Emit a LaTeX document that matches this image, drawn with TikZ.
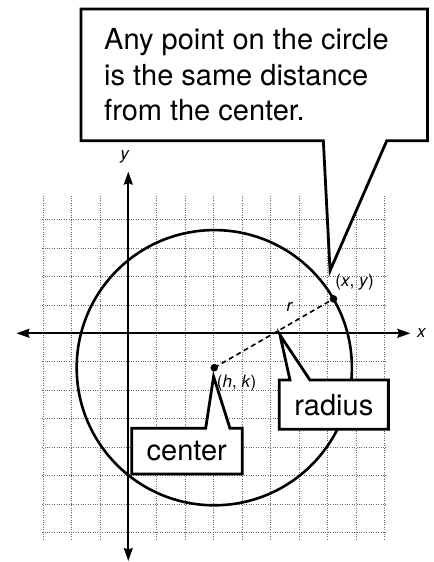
\documentclass[tikz,border=0pt]{standalone}
\usepackage{fontspec}
\setmainfont{TeX Gyre Heros}
\usetikzlibrary{arrows.meta}

\begin{document}
\begin{tikzpicture}[x=17.2pt, y=17.2pt,
    gridline/.style={black!60, line width=0.6pt, dash pattern=on 0.8pt off 1.6pt},
    axis/.style={line width=1.8pt, {Stealth[length=13pt,width=9pt,inset=1.5pt]}-{Stealth[length=13pt,width=9pt,inset=1.5pt]}},
    callout/.style={draw, line width=2.8pt, fill=white, line join=miter},
    bigtext/.style={font=\fontsize{29}{35.5}\selectfont, inner sep=0pt},
    smalltext/.style={font=\fontsize{17}{20}\selectfont, inner sep=0pt}]
  \useasboundingbox (-7.459,-13.297) rectangle (17.773,19.378);

  % Grid and circle
  \draw[gridline] (-5,-12) grid (15,8);
  \draw[line width=2.6pt] (5,-2) circle (8);

  % Axes
  \coordinate (xl) at (-6.5,0);
  \coordinate (xr) at (16.4,0);
  \coordinate (yt) at (0,9.4);
  \coordinate (yb) at (0,-13.24);
  \draw[axis] (xl) -- (xr);
  \draw[axis] (yb) -- (yt);
  \node[smalltext] (xlab) at (17.06,0) {\textit{x}};
  \node[smalltext] (ylab) at (-0.19,10.27) {\textit{y}};

  % Radius
  \coordinate (ctr) at (5,-2);
  \coordinate (pt) at (11.93,2);
  \draw[line width=1.6pt, dash pattern=on 5pt off 3.5pt] (ctr) -- (pt);
  \fill (ctr) circle (3.8pt);
  \fill (pt) circle (3.8pt);
  \node[smalltext] (ptlab) at (13.16,3.0) {(\textit{x}, \textit{y})};
  \node[smalltext] (rlab) at (9.4,1.55) {\textit{r}};
  \node[smalltext] (ctrlab) at (6.3,-2.87) {(\textit{h}, \textit{k})};

  % Callouts
  \draw[callout] (-2.75,18.85) -- (17.4,18.85) -- (17.4,11.2) -- (15.03,11.2)
    -- (11.73,3.64) -- (11.34,11.2) -- (-2.75,11.2) -- cycle;
  \node[bigtext, anchor=base west, align=left] (note) at (-1.41,12.36)
    {Any point on the circle\\is the same distance\\from the center.};

  \draw[callout] (8.78,-2.715) -- (9.4,-2.715) -- (8.82,-0.1) -- (10.56,-2.715)
    -- (15.12,-2.715) -- (15.12,-5.58) -- (8.78,-5.58) -- cycle;
  \node[bigtext] (radius) at (11.95,-4.15) {radius};

  \draw[callout] (0.2,-5.52) -- (4.5,-5.52) -- (4.96,-2.52) -- (5.91,-5.52)
    -- (6.63,-5.52) -- (6.63,-8.18) -- (0.2,-8.18) -- cycle;
  \node[bigtext] (center) at (3.4,-6.85) {center};
\end{tikzpicture}
\end{document}
